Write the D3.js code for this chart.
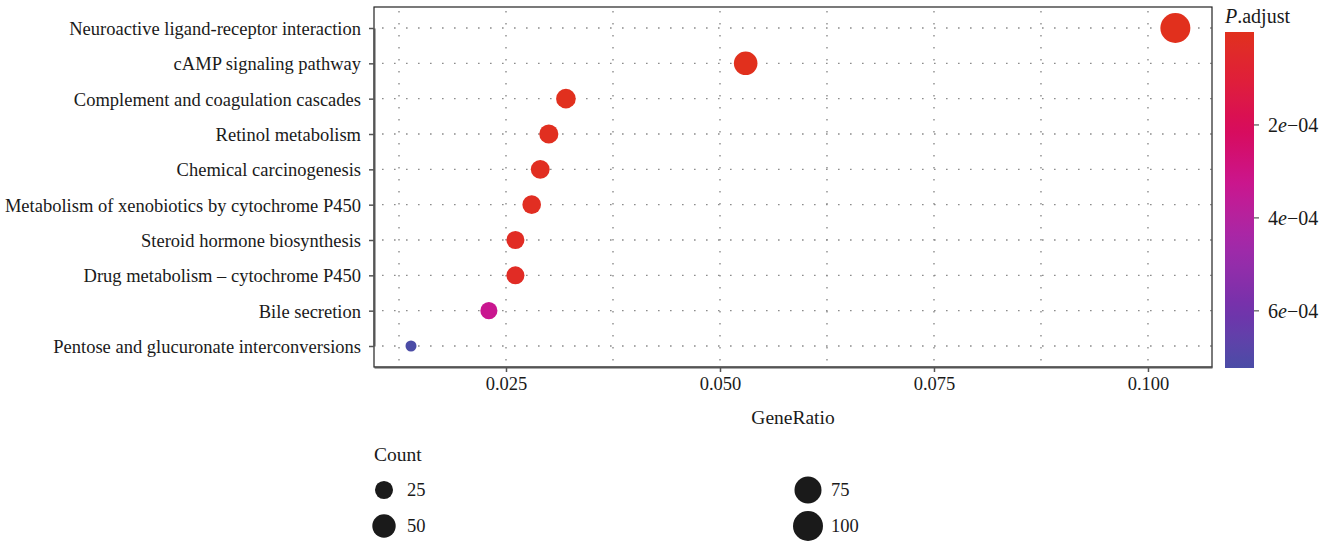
<!DOCTYPE html>
<html>
<head>
<meta charset="utf-8">
<script src="https://cdn.jsdelivr.net/npm/d3@7"></script>
<style>
  body { margin: 0; background: #fff; }
  svg { display: block; font-family: "Liberation Serif", "DejaVu Serif", serif; }
</style>
</head>
<body>
<svg id="chart" width="1340" height="541"></svg>
<script>
// data
var pathways = [
  "Neuroactive ligand-receptor interaction",
  "cAMP signaling pathway",
  "Complement and coagulation cascades",
  "Retinol metabolism",
  "Chemical carcinogenesis",
  "Metabolism of xenobiotics by cytochrome P450",
  "Steroid hormone biosynthesis",
  "Drug metabolism \u2013 cytochrome P450",
  "Bile secretion",
  "Pentose and glucuronate interconversions"
];
var geneRatio = [0.1032, 0.0530, 0.0320, 0.0300, 0.0290, 0.0280, 0.0261, 0.0261, 0.0230, 0.0139];
var counts    = [100, 51, 31, 29, 28, 27, 25, 25, 22, 13];
var pAdjust   = [1.0e-9, 2.0e-7, 3.0e-6, 8.0e-6, 1.2e-5, 1.6e-5, 2.4e-5, 2.6e-5, 3.3e-4, 7.2e-4];

var xTicks = [0.025, 0.050, 0.075, 0.100];
var xMinor = [0.0125, 0.0375, 0.0625, 0.0875];
var pTicks = [2e-4, 4e-4, 6e-4];
var pTickLabels = ["2", "4", "6"];
var countLegend = [25, 50, 75, 100];

var svg = d3.select("#chart");

// panel
var pLeft = 374, pRight = 1212, pTop = 7, pBottom = 367;
var fs = "18.5px";

var x = d3.scaleLinear().domain([0.009579, 0.10748]).range([pLeft, pRight]);
var y = d3.scalePoint().domain(pathways).range([28, 346]);

// size: area style like ggplot scale_size
var cMin = 13, cMax = 100;
var rLin = d3.scaleLinear().domain([0, 1]).range([5.5, 15]);
function radius(c) { return rLin(Math.sqrt((c - cMin) / (cMax - cMin))); }

// colour: red (small p) -> blue (large p)
var pMin = 0, pMax = 7.23e-4;
var colour = d3.scaleLinear()
  .domain([0, 1.0e-4, 2.0e-4, 3.3e-4, 4.5e-4, 6.0e-4, pMax])
  .range(["#e1301d", "#df1f38", "#d90b58", "#c9168f", "#a528a8", "#7132ac", "#4a4ca6"])
  .interpolate(d3.interpolateLab);

var dot = "1.6,10.4";

// grid
var grid = svg.append("g");
grid.selectAll(".vmin").data(xMinor.concat(xTicks)).enter().append("line")
  .attr("x1", function(d) { return x(d); }).attr("x2", function(d) { return x(d); })
  .attr("y1", pTop).attr("y2", pBottom)
  .style("stroke", "#8c8c8c").style("stroke-width", 1.4).style("stroke-dasharray", dot)
  .style("stroke-dashoffset", -4);
grid.selectAll(".hmaj").data(pathways).enter().append("line")
  .attr("x1", pLeft).attr("x2", pRight)
  .attr("y1", function(d) { return y(d); }).attr("y2", function(d) { return y(d); })
  .style("stroke", "#8c8c8c").style("stroke-width", 1.4).style("stroke-dasharray", dot)
  .style("stroke-dashoffset", -8);

// points
var rows = pathways.map(function(p, i) {
  return { name: p, ratio: geneRatio[i], count: counts[i], p: pAdjust[i] };
});
svg.append("g").selectAll("circle").data(rows).enter().append("circle")
  .attr("cx", function(d) { return x(d.ratio); })
  .attr("cy", function(d) { return y(d.name); })
  .attr("r", function(d) { return radius(d.count); })
  .attr("fill", function(d) { return colour(d.p); });

// panel border
svg.append("rect").attr("x", pLeft).attr("y", pTop)
  .attr("width", pRight - pLeft).attr("height", pBottom - pTop)
  .attr("fill", "none").style("stroke", "#222").style("stroke-width", 1.2);

// axes
var xAxis = svg.append("g").attr("transform", "translate(0," + pBottom + ")")
  .call(d3.axisBottom(x).tickValues(xTicks).tickFormat(d3.format(".3f"))
    .tickSize(5).tickSizeOuter(0).tickPadding(5));
var yAxis = svg.append("g").attr("transform", "translate(" + pLeft + ",0)")
  .call(d3.axisLeft(y).tickSize(5).tickSizeOuter(0).tickPadding(8));
[xAxis, yAxis].forEach(function(a) {
  a.select(".domain").style("stroke", "#555").style("stroke-width", 2);
  a.selectAll(".tick line").style("stroke", "#555").style("stroke-width", 1.5);
  a.selectAll("text").style("font-family", "Liberation Serif, serif")
    .style("font-size", fs).style("fill", "#1a1a1a");
});
yAxis.selectAll("text").attr("dy", "0.35em");

svg.append("text").attr("x", (pLeft + pRight) / 2).attr("y", 424)
  .attr("text-anchor", "middle").style("font-size", "19.5px").style("fill", "#1a1a1a")
  .text("GeneRatio");

// colour bar
var barX = 1225, barW = 29, barTop = 32, barBot = 368;
var pScale = d3.scaleLinear().domain([pMin, pMax]).range([barTop, barBot]);
var defs = svg.append("defs");
var grad = defs.append("linearGradient").attr("id", "pgrad")
  .attr("x1", 0).attr("y1", 0).attr("x2", 0).attr("y2", 1);
d3.range(0, 1.0001, 0.05).forEach(function(t) {
  grad.append("stop").attr("offset", t).attr("stop-color", colour(pMin + t * (pMax - pMin)));
});
svg.append("rect").attr("x", barX).attr("y", barTop).attr("width", barW)
  .attr("height", barBot - barTop).attr("fill", "url(#pgrad)");
var pt = svg.append("g").selectAll("g").data(pTicks).enter().append("g")
  .attr("transform", function(d) { return "translate(" + (barX + barW) + "," + pScale(d) + ")"; });
pt.append("line").attr("x1", 0).attr("x2", 5).style("stroke", "#555").style("stroke-width", 1.2);
var ptx = pt.append("text").attr("x", 14).attr("dy", "0.35em")
  .style("font-size", "20px").style("fill", "#1a1a1a");
ptx.append("tspan").text(function(d, i) { return pTickLabels[i]; });
ptx.append("tspan").style("font-style", "italic").text("e");
ptx.append("tspan").text("\u221204");

var pTitle = svg.append("text").attr("x", barX).attr("y", 23)
  .style("font-size", "20px").style("fill", "#1a1a1a");
pTitle.append("tspan").style("font-style", "italic").text("P");
pTitle.append("tspan").text(".adjust");

// count legend
svg.append("text").attr("x", 374).attr("y", 461)
  .style("font-size", "19.5px").style("fill", "#1a1a1a").text("Count");
var legPos = [[384, 490], [384, 526], [808, 490], [808, 526]];
var lg = svg.append("g").selectAll("g").data(countLegend).enter().append("g")
  .attr("transform", function(d, i) { return "translate(" + legPos[i][0] + "," + legPos[i][1] + ")"; });
lg.append("circle").attr("r", function(d) { return radius(d); }).attr("fill", "#1a1a1a");
lg.append("text").attr("x", 23).attr("dy", "0.35em")
  .style("font-size", fs).style("fill", "#1a1a1a").text(function(d) { return d; });
</script>
</body>
</html>
